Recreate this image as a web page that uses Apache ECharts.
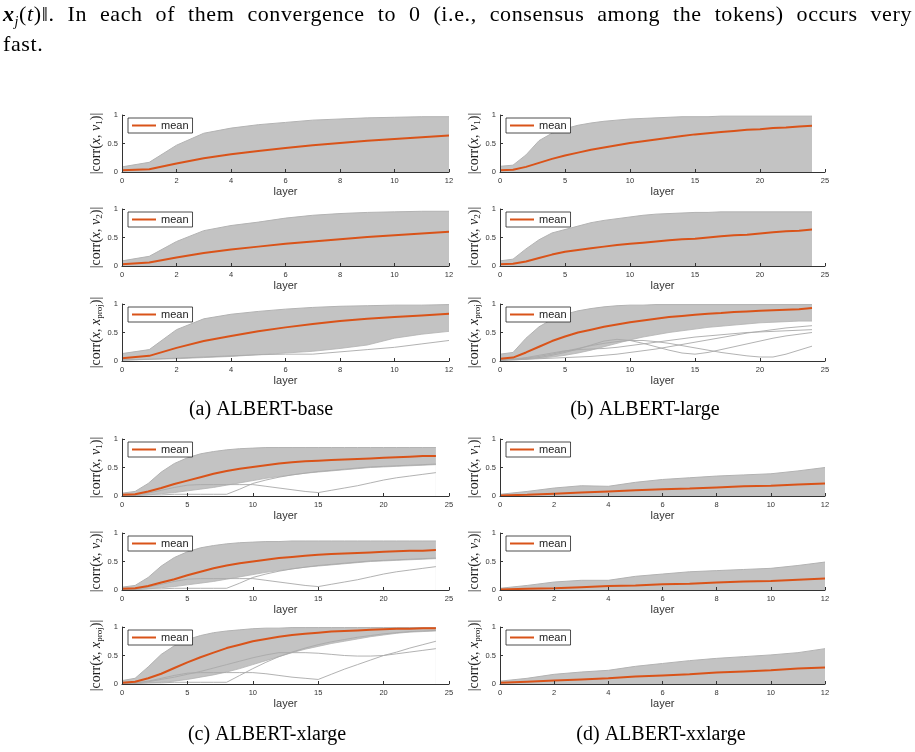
<!DOCTYPE html>
<html>
<head>
<meta charset="utf-8">
<script src="https://cdn.jsdelivr.net/npm/echarts@6/dist/echarts.min.js"></script>
<style>
html, body { margin: 0; padding: 0; background: #fff; }
#wrap { position: relative; width: 915px; height: 752px; }
#chart { position: absolute; left: 0; top: 0; width: 915px; height: 752px; }
.para { position: absolute; left: 3px; width: 909px; font-family: 'Liberation Serif', serif; font-size: 22px; letter-spacing: 0.6px; line-height: 26px; color: #000; white-space: nowrap; }
#line1 { top: 1px; text-align: justify; text-align-last: justify; white-space: normal; }
#line2 { top: 31px; }
</style>
</head>
<body>
<div id="wrap">
    <div id="chart"></div>
    <div class="para" id="line1"><b><i>x</i></b><sub style="font-size:14px"><i>j</i></sub>(<i>t</i>)&#8214;. In each of them convergence to 0 (i.e., consensus among the tokens) occurs very</div>
    <div class="para" id="line2">fast.</div>
</div>
<script>
// layers on the x axis
const layers12 = [0, 1, 2, 3, 4, 5, 6, 7, 8, 9, 10, 11, 12];
const layers24 = [0, 1, 2, 3, 4, 5, 6, 7, 8, 9, 10, 11, 12, 13, 14, 15, 16, 17, 18, 19, 20, 21, 22, 23, 24];

// (a) ALBERT-base
const meanA1 = [0.03, 0.05, 0.15, 0.24, 0.31, 0.37, 0.42, 0.47, 0.51, 0.55, 0.58, 0.61, 0.64];
const upperA1 = [0.09, 0.17, 0.47, 0.68, 0.77, 0.83, 0.87, 0.91, 0.93, 0.95, 0.96, 0.97, 0.97];
const meanA2 = [0.03, 0.06, 0.15, 0.23, 0.29, 0.34, 0.39, 0.43, 0.47, 0.51, 0.54, 0.57, 0.60];
const upperA2 = [0.09, 0.17, 0.43, 0.62, 0.71, 0.77, 0.84, 0.89, 0.92, 0.94, 0.95, 0.96, 0.96];
const meanA3 = [0.05, 0.09, 0.23, 0.35, 0.44, 0.52, 0.59, 0.65, 0.70, 0.74, 0.77, 0.80, 0.83];
const upperA3 = [0.13, 0.20, 0.55, 0.74, 0.82, 0.87, 0.91, 0.94, 0.96, 0.97, 0.98, 0.98, 0.99];
const lowerA3 = [0.01, 0.03, 0.04, 0.06, 0.08, 0.11, 0.14, 0.17, 0.22, 0.28, 0.40, 0.47, 0.52];
const lowA3 = [0.02, 0.03, 0.05, 0.07, 0.09, 0.11, 0.12, 0.12, 0.16, 0.20, 0.24, 0.30, 0.36];

// (b) ALBERT-large
const meanB1 = [0.03, 0.04, 0.09, 0.16, 0.23, 0.29, 0.34, 0.39, 0.43, 0.47, 0.51, 0.54, 0.57, 0.60, 0.63, 0.66, 0.68, 0.70, 0.72, 0.74, 0.75, 0.77, 0.78, 0.80, 0.81];
const upperB1 = [0.10, 0.12, 0.30, 0.55, 0.68, 0.76, 0.82, 0.86, 0.89, 0.91, 0.93, 0.94, 0.95, 0.96, 0.97, 0.97, 0.97, 0.98, 0.98, 0.98, 0.98, 0.98, 0.98, 0.98, 0.98];
const meanB2 = [0.03, 0.04, 0.08, 0.14, 0.20, 0.25, 0.28, 0.31, 0.34, 0.37, 0.39, 0.41, 0.43, 0.45, 0.47, 0.48, 0.50, 0.52, 0.54, 0.55, 0.57, 0.59, 0.61, 0.62, 0.64];
const upperB2 = [0.09, 0.12, 0.30, 0.46, 0.58, 0.64, 0.70, 0.76, 0.80, 0.83, 0.86, 0.89, 0.91, 0.92, 0.93, 0.94, 0.94, 0.95, 0.95, 0.95, 0.95, 0.95, 0.95, 0.95, 0.95];
const meanB3 = [0.04, 0.06, 0.15, 0.25, 0.35, 0.43, 0.50, 0.55, 0.60, 0.64, 0.68, 0.71, 0.74, 0.77, 0.79, 0.81, 0.83, 0.84, 0.86, 0.87, 0.88, 0.89, 0.90, 0.91, 0.93];
const upperB3 = [0.12, 0.15, 0.40, 0.60, 0.73, 0.82, 0.88, 0.92, 0.95, 0.97, 0.98, 0.98, 0.99, 0.99, 0.99, 0.99, 0.99, 0.99, 0.99, 0.99, 0.99, 0.99, 0.99, 0.99, 0.99];
const lowerB3 = [0.01, 0.02, 0.03, 0.05, 0.07, 0.10, 0.14, 0.19, 0.25, 0.31, 0.37, 0.42, 0.46, 0.50, 0.53, 0.56, 0.59, 0.61, 0.63, 0.65, 0.67, 0.68, 0.69, 0.70, 0.70];
const lowB3a = [0.02, 0.03, 0.05, 0.08, 0.12, 0.17, 0.22, 0.27, 0.31, 0.34, 0.36, 0.36, 0.34, 0.31, 0.27, 0.23, 0.19, 0.15, 0.12, 0.09, 0.07, 0.07, 0.12, 0.19, 0.26];
const lowB3b = [0.02, 0.03, 0.04, 0.06, 0.10, 0.15, 0.21, 0.28, 0.35, 0.38, 0.36, 0.31, 0.25, 0.19, 0.14, 0.12, 0.15, 0.20, 0.25, 0.30, 0.35, 0.40, 0.44, 0.47, 0.50];
const lowB3c = [0.01, 0.02, 0.03, 0.04, 0.05, 0.06, 0.07, 0.08, 0.10, 0.12, 0.15, 0.18, 0.21, 0.25, 0.29, 0.33, 0.37, 0.41, 0.45, 0.49, 0.52, 0.55, 0.58, 0.60, 0.62];
const lowB3d = [0.02, 0.03, 0.06, 0.10, 0.14, 0.18, 0.20, 0.21, 0.22, 0.24, 0.27, 0.30, 0.33, 0.36, 0.39, 0.42, 0.44, 0.46, 0.48, 0.50, 0.51, 0.52, 0.53, 0.54, 0.55];

// (c) ALBERT-xlarge
const meanC1 = [0.02, 0.03, 0.08, 0.14, 0.21, 0.27, 0.33, 0.39, 0.44, 0.48, 0.51, 0.54, 0.57, 0.59, 0.61, 0.62, 0.63, 0.64, 0.65, 0.66, 0.67, 0.68, 0.69, 0.70, 0.70];
const upperC1 = [0.05, 0.08, 0.22, 0.42, 0.57, 0.67, 0.74, 0.78, 0.81, 0.83, 0.84, 0.85, 0.85, 0.85, 0.85, 0.85, 0.85, 0.85, 0.85, 0.85, 0.85, 0.85, 0.85, 0.85, 0.85];
const lowerC1 = [0.00, 0.01, 0.02, 0.04, 0.06, 0.09, 0.12, 0.15, 0.19, 0.23, 0.27, 0.31, 0.34, 0.37, 0.40, 0.42, 0.44, 0.46, 0.48, 0.50, 0.51, 0.52, 0.53, 0.54, 0.55];
const lowC1a = [0.01, 0.02, 0.05, 0.10, 0.15, 0.19, 0.20, 0.20, 0.20, 0.20, 0.20, 0.17, 0.14, 0.11, 0.08, 0.06, 0.10, 0.14, 0.18, 0.23, 0.28, 0.32, 0.35, 0.38, 0.41];
const lowC1b = [0.01, 0.01, 0.02, 0.02, 0.03, 0.03, 0.03, 0.03, 0.03, 0.12, 0.22, 0.28, 0.33, 0.37, 0.40, 0.43, 0.45, 0.47, 0.49, 0.51, 0.52, 0.53, 0.54, 0.55, 0.56];
const meanC2 = [0.02, 0.03, 0.07, 0.13, 0.19, 0.26, 0.32, 0.38, 0.43, 0.47, 0.50, 0.53, 0.56, 0.58, 0.60, 0.62, 0.63, 0.64, 0.65, 0.66, 0.67, 0.68, 0.69, 0.69, 0.70];
const upperC2 = [0.05, 0.08, 0.22, 0.42, 0.57, 0.67, 0.74, 0.78, 0.81, 0.83, 0.84, 0.85, 0.85, 0.86, 0.86, 0.86, 0.86, 0.86, 0.86, 0.86, 0.86, 0.86, 0.86, 0.86, 0.86];
const lowerC2 = [0.00, 0.01, 0.02, 0.04, 0.06, 0.09, 0.12, 0.15, 0.19, 0.23, 0.27, 0.31, 0.34, 0.37, 0.40, 0.42, 0.44, 0.46, 0.48, 0.50, 0.51, 0.52, 0.53, 0.54, 0.55];
const lowC2a = [0.01, 0.02, 0.05, 0.10, 0.15, 0.19, 0.20, 0.20, 0.20, 0.20, 0.20, 0.17, 0.14, 0.11, 0.08, 0.06, 0.10, 0.14, 0.18, 0.23, 0.28, 0.32, 0.35, 0.38, 0.41];
const lowC2b = [0.01, 0.01, 0.02, 0.02, 0.03, 0.03, 0.03, 0.03, 0.03, 0.12, 0.22, 0.28, 0.33, 0.37, 0.40, 0.43, 0.45, 0.47, 0.49, 0.51, 0.52, 0.53, 0.54, 0.55, 0.56];
const meanC3 = [0.02, 0.04, 0.10, 0.18, 0.28, 0.38, 0.47, 0.55, 0.63, 0.69, 0.75, 0.79, 0.83, 0.86, 0.88, 0.90, 0.92, 0.93, 0.94, 0.95, 0.96, 0.97, 0.97, 0.98, 0.98];
const upperC3 = [0.06, 0.10, 0.30, 0.52, 0.67, 0.78, 0.85, 0.90, 0.93, 0.95, 0.97, 0.98, 0.98, 0.99, 0.99, 0.99, 0.99, 0.99, 0.99, 0.99, 0.99, 0.99, 0.99, 0.99, 0.99];
const lowerC3 = [0.00, 0.01, 0.02, 0.03, 0.05, 0.08, 0.12, 0.16, 0.21, 0.27, 0.34, 0.41, 0.48, 0.55, 0.61, 0.66, 0.71, 0.75, 0.79, 0.83, 0.86, 0.89, 0.91, 0.92, 0.93];
const lowC3a = [0.01, 0.02, 0.05, 0.10, 0.15, 0.19, 0.20, 0.20, 0.20, 0.20, 0.20, 0.18, 0.15, 0.12, 0.10, 0.08, 0.17, 0.26, 0.34, 0.42, 0.50, 0.56, 0.63, 0.69, 0.75];
const lowC3b = [0.01, 0.02, 0.04, 0.08, 0.12, 0.17, 0.22, 0.28, 0.34, 0.40, 0.46, 0.51, 0.55, 0.55, 0.55, 0.54, 0.52, 0.50, 0.49, 0.49, 0.50, 0.53, 0.56, 0.59, 0.62];
const lowC3c = [0.01, 0.01, 0.02, 0.02, 0.03, 0.03, 0.03, 0.03, 0.03, 0.15, 0.27, 0.38, 0.48, 0.56, 0.63, 0.69, 0.74, 0.78, 0.82, 0.85, 0.88, 0.90, 0.92, 0.93, 0.94];

// (d) ALBERT-xxlarge
const meanD1 = [0.01, 0.02, 0.04, 0.06, 0.08, 0.10, 0.12, 0.13, 0.15, 0.17, 0.18, 0.20, 0.22];
const upperD1 = [0.03, 0.08, 0.14, 0.18, 0.17, 0.24, 0.29, 0.32, 0.35, 0.37, 0.39, 0.44, 0.50];
const meanD2 = [0.01, 0.02, 0.03, 0.05, 0.07, 0.08, 0.10, 0.11, 0.13, 0.15, 0.16, 0.18, 0.20];
const upperD2 = [0.03, 0.08, 0.14, 0.17, 0.17, 0.24, 0.28, 0.32, 0.34, 0.36, 0.38, 0.43, 0.49];
const meanD3 = [0.02, 0.04, 0.06, 0.08, 0.10, 0.13, 0.15, 0.17, 0.20, 0.22, 0.24, 0.27, 0.29];
const upperD3 = [0.05, 0.10, 0.17, 0.21, 0.24, 0.31, 0.36, 0.41, 0.45, 0.48, 0.51, 0.55, 0.62];

const captions = ['(a) ALBERT-base', '(b) ALBERT-large', '(c) ALBERT-xlarge', '(d) ALBERT-xxlarge'];

const V1 = '|corr({i|x}, {i|v}{s|1})|';
const V2 = '|corr({i|x}, {i|v}{s|2})|';
const XP = '|corr({i|x}, {i|x}{s|proj})|';

const panels = [
    {col: 0, row: 0, x: layers12, mean: meanA1, upper: upperA1, lower: null, others: [], ylab: V1},
    {col: 0, row: 1, x: layers12, mean: meanA2, upper: upperA2, lower: null, others: [], ylab: V2},
    {col: 0, row: 2, x: layers12, mean: meanA3, upper: upperA3, lower: lowerA3, others: [lowA3], ylab: XP},
    {col: 1, row: 0, x: layers24, mean: meanB1, upper: upperB1, lower: null, others: [], ylab: V1},
    {col: 1, row: 1, x: layers24, mean: meanB2, upper: upperB2, lower: null, others: [], ylab: V2},
    {col: 1, row: 2, x: layers24, mean: meanB3, upper: upperB3, lower: lowerB3, others: [lowB3a, lowB3b, lowB3c, lowB3d], ylab: XP},
    {col: 0, row: 3, x: layers24, mean: meanC1, upper: upperC1, lower: lowerC1, others: [lowC1a, lowC1b], ylab: V1},
    {col: 0, row: 4, x: layers24, mean: meanC2, upper: upperC2, lower: lowerC2, others: [lowC2a, lowC2b], ylab: V2},
    {col: 0, row: 5, x: layers24, mean: meanC3, upper: upperC3, lower: lowerC3, others: [lowC3a, lowC3b, lowC3c], ylab: XP},
    {col: 1, row: 3, x: layers12, mean: meanD1, upper: upperD1, lower: null, others: [], ylab: V1},
    {col: 1, row: 4, x: layers12, mean: meanD2, upper: upperD2, lower: null, others: [], ylab: V2},
    {col: 1, row: 5, x: layers12, mean: meanD3, upper: upperD3, lower: null, others: [], ylab: XP}
];

const colLeft = [122, 500];
const colWidth = [327, 325];
const rowTop = [115, 209, 304, 439, 533, 627];
const plotH = 57;

const GRAY = '#b3b3b3';
const FILL = '#c3c3c3';
const ORANGE = '#D95319';
const AXIS = '#333';

const chart = echarts.init(document.getElementById('chart'));

const grid = [], xAxis = [], yAxis = [], series = [], legend = [];

function pairs(xs, ys) {
    return xs.map(function (v, k) { return [v, ys[k]]; });
}

panels.forEach(function (p, i) {
    const left = colLeft[p.col];
    const top = rowTop[p.row];
    const xmax = p.x.length > 13 ? 25 : 12;
    grid.push({left: left, top: top, width: colWidth[p.col], height: plotH});
    xAxis.push({
        gridIndex: i, type: 'value', min: 0, max: xmax, interval: xmax === 25 ? 5 : 2, z: 10,
        name: 'layer', nameLocation: 'middle', nameGap: 14,
        nameTextStyle: {fontFamily: 'Liberation Sans', fontSize: 11, color: '#333'},
        axisLine: {lineStyle: {color: AXIS, width: 1}},
        axisTick: {inside: true, length: 3, lineStyle: {color: AXIS}},
        axisLabel: {fontFamily: 'Liberation Sans', fontSize: 7.5, color: '#333', margin: 5},
        splitLine: {show: false}
    });
    yAxis.push({
        gridIndex: i, type: 'value', min: 0, max: 1, interval: 0.5, z: 10,
        name: p.ylab, nameLocation: 'middle', nameGap: 15,
        nameTextStyle: {
            fontFamily: 'Liberation Serif', fontSize: 14, color: '#222', lineHeight: 15,
            rich: {
                i: {fontFamily: 'Liberation Serif', fontStyle: 'italic', fontSize: 14, color: '#222', lineHeight: 15},
                s: {fontFamily: 'Liberation Serif', fontSize: 9, color: '#222', lineHeight: 9, verticalAlign: 'bottom'}
            }
        },
        axisLine: {show: true, lineStyle: {color: AXIS, width: 1}},
        axisTick: {show: true, inside: true, length: 3, lineStyle: {color: AXIS}},
        axisLabel: {fontFamily: 'Liberation Sans', fontSize: 7.5, color: '#333', margin: 4},
        splitLine: {show: false}
    });

    // gray band covered by the token curves: upper envelope filled down to 0 ...
    series.push({
        type: 'line', xAxisIndex: i, yAxisIndex: i, silent: true,
        symbol: 'none', lineStyle: {color: GRAY, width: 1},
        areaStyle: {color: FILL, opacity: 1, origin: 'start'},
        data: pairs(p.x, p.upper)
    });
    // ... then the empty part under the lower envelope is blanked out
    if (p.lower) {
        series.push({
            type: 'line', xAxisIndex: i, yAxisIndex: i, silent: true,
            symbol: 'none', lineStyle: {color: GRAY, width: 0.8},
            areaStyle: {color: '#fff', opacity: 1, origin: 'start'},
            data: pairs(p.x, p.lower)
        });
    }
    p.others.forEach(function (o) {
        series.push({
            type: 'line', xAxisIndex: i, yAxisIndex: i, silent: true,
            symbol: 'none', lineStyle: {color: '#a9a9a9', width: 0.9},
            data: pairs(p.x, o)
        });
    });
    series.push({
        name: 'mean', type: 'line', xAxisIndex: i, yAxisIndex: i, z: 5,
        symbol: 'none', color: ORANGE, lineStyle: {color: ORANGE, width: 2},
        data: pairs(p.x, p.mean)
    });

    legend.push({
        data: ['mean'], left: left + 6, top: top + 3, icon: 'rect',
        itemWidth: 24, itemHeight: 2, itemGap: 0, selectedMode: false,
        padding: [2, 4, 2, 4], borderColor: '#222', borderWidth: 0.8, backgroundColor: '#fff',
        textStyle: {fontFamily: 'Liberation Sans', fontSize: 11, color: '#222'}
    });
});

const capPos = [[261, 410], [645, 410], [267, 735], [661, 735]];
const graphic = captions.map(function (c, k) {
    return {
        type: 'text', x: capPos[k][0], y: capPos[k][1],
        style: {text: c, fontFamily: 'Liberation Serif', fontSize: 20, fill: '#000', align: 'center', verticalAlign: 'middle'}
    };
});

chart.setOption({
    animation: false,
    grid: grid,
    xAxis: xAxis,
    yAxis: yAxis,
    legend: legend,
    graphic: graphic,
    series: series
});

window.addEventListener('resize', function () {
    chart.resize();
});
</script>
</body>
</html>
